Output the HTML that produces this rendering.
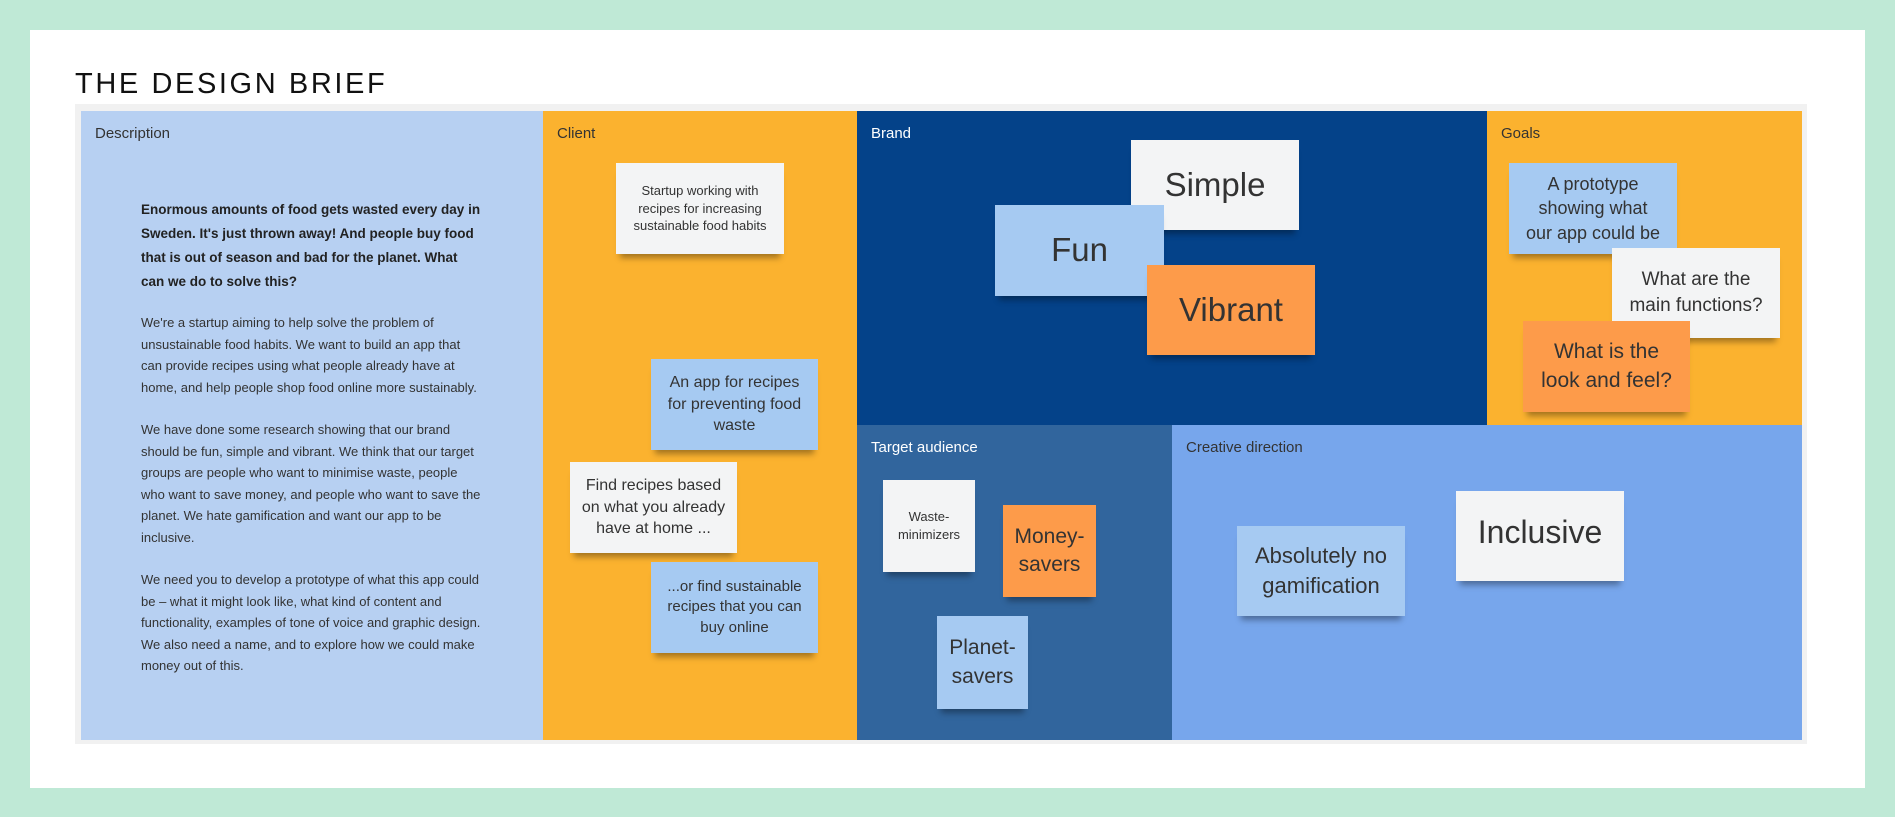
<!DOCTYPE html>
<html><head><meta charset="utf-8"><style>
*{margin:0;padding:0;box-sizing:border-box}
body{width:1895px;height:817px;background:#bfe9d6;position:relative;overflow:hidden;font-family:"Liberation Sans",sans-serif}
.card{position:absolute;left:30px;top:30px;width:1835px;height:758px;background:#fff}
.title{position:absolute;left:75px;top:68px;font-size:29px;letter-spacing:2.6px;color:#111}
.board{position:absolute;left:75px;top:104px;width:1732px;height:640px;background:#f1f1f1}
.p{position:absolute}
.lbl{position:absolute;left:14px;top:14px;font-size:15px}
.s{position:absolute;display:flex;align-items:center;justify-content:center;text-align:center;color:#333;box-shadow:0 8px 6px -4px rgba(0,0,0,.35);line-height:1.35}
.w{background:#f3f4f5}.b{background:#a6caf2}.o{background:#fd9b4a}
.desc{position:absolute;left:141px;top:198px;width:340px;font-size:13px;color:#333;line-height:21.5px}
.desc b{display:block;font-size:13.5px;line-height:24px;color:#222;margin-bottom:18px}
.desc p{margin-bottom:21px}
</style></head><body>
<div class="card"></div>
<div class="title">THE DESIGN BRIEF</div>
<div class="board"></div>
<div class="p" style="left:81px;top:111px;width:462px;height:629px;background:#b7d0f2"><div class="lbl" style="color:#333">Description</div></div>
<div class="p" style="left:543px;top:111px;width:314px;height:629px;background:#fbb22f"><div class="lbl" style="color:#333">Client</div></div>
<div class="p" style="left:857px;top:111px;width:630px;height:314px;background:#044289"><div class="lbl" style="color:#fff">Brand</div></div>
<div class="p" style="left:1487px;top:111px;width:315px;height:314px;background:#fbb22f"><div class="lbl" style="color:#333">Goals</div></div>
<div class="p" style="left:857px;top:425px;width:315px;height:315px;background:#31659d"><div class="lbl" style="color:#fff">Target audience</div></div>
<div class="p" style="left:1172px;top:425px;width:630px;height:315px;background:#77a6ec"><div class="lbl" style="color:#333">Creative direction</div></div>
<div class="desc"><b>Enormous amounts of food gets wasted every day in Sweden. It's just thrown away! And people buy food that is out of season and bad for the planet. What can we do to solve this?</b>
<p>We're a startup aiming to help solve the problem of unsustainable food habits. We want to build an app that can provide recipes using what people already have at home, and help people shop food online more sustainably.</p>
<p>We have done some research showing that our brand should be fun, simple and vibrant. We think that our target groups are people who want to minimise waste, people who want to save money, and people who want to save the planet. We hate gamification and want our app to be inclusive.</p>
<p>We need you to develop a prototype of what this app could be – what it might look like, what kind of content and functionality, examples of tone of voice and graphic design. We also need a name, and to explore how we could make money out of this.</p></div>
<div class="s w" style="left:616px;top:163px;width:168px;height:91px;font-size:13px;padding:0 14px">Startup working with recipes for increasing sustainable food habits</div>
<div class="s b" style="left:651px;top:359px;width:167px;height:91px;font-size:16px;padding:0 12px">An app for recipes for preventing food waste</div>
<div class="s w" style="left:570px;top:462px;width:167px;height:91px;font-size:16px;padding:0 10px">Find recipes based on what you already have at home ...</div>
<div class="s b" style="left:651px;top:562px;width:167px;height:91px;font-size:15px;padding:0 10px">...or find sustainable recipes that you can buy online</div>
<div class="s w" style="left:1131px;top:140px;width:168px;height:90px;font-size:33px">Simple</div>
<div class="s b" style="left:995px;top:205px;width:169px;height:91px;font-size:33px">Fun</div>
<div class="s o" style="left:1147px;top:265px;width:168px;height:90px;font-size:33px">Vibrant</div>
<div class="s b" style="left:1509px;top:163px;width:168px;height:91px;font-size:18px;padding:0 14px">A prototype showing what our app could be</div>
<div class="s w" style="left:1612px;top:248px;width:168px;height:90px;font-size:19px;padding:0 14px">What are the main functions?</div>
<div class="s o" style="left:1523px;top:321px;width:167px;height:91px;font-size:21px;padding:0 14px">What is the look and feel?</div>
<div class="s w" style="left:883px;top:480px;width:92px;height:92px;font-size:13px">Waste-<br>minimizers</div>
<div class="s o" style="left:1003px;top:505px;width:93px;height:92px;font-size:21px">Money-<br>savers</div>
<div class="s b" style="left:937px;top:616px;width:91px;height:93px;font-size:21px">Planet-<br>savers</div>
<div class="s b" style="left:1237px;top:526px;width:168px;height:90px;font-size:22px;padding:0 8px">Absolutely no gamification</div>
<div class="s w" style="left:1456px;top:491px;width:168px;height:90px;font-size:32px;align-items:flex-start;padding-top:20px">Inclusive</div>
</body></html>
